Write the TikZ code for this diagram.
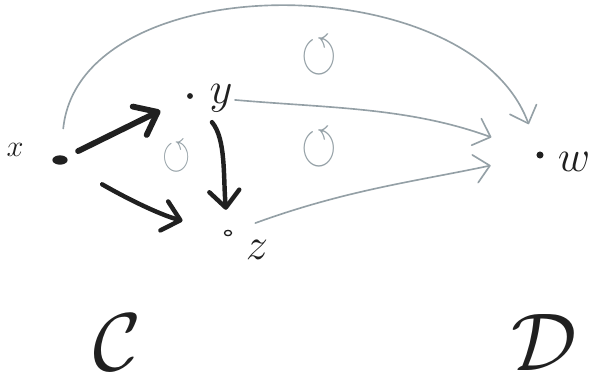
\RequirePackage{fix-cm}
\documentclass[tikz,border=0pt]{standalone}
\usepackage{amssymb}
\usepackage{graphicx}
\usepackage{tikz}
\usetikzlibrary{arrows.meta,shapes.geometric}
\definecolor{myink}{RGB}{32,32,32}
\definecolor{mygray}{RGB}{148,160,166}
\tikzset{
  pt/.style={circle,fill=myink,inner sep=0pt,minimum size=5pt},
  ptlbl/.style={inner sep=0pt,text=myink,font=\fontsize{38}{38}\selectfont},
  catlbl/.style={inner sep=0pt,text=myink,font=\fontsize{70}{70}\selectfont},
  comm/.style={inner sep=0pt,text=mygray,font=\fontsize{10}{10}\selectfont},
  inkarrow/.style={draw=myink,line width=3.8pt,line cap=round,
    -{Straight Barb[length=5mm,width=9mm,round]}},
  grayarrow/.style={draw=mygray,line width=1.4pt,line cap=round,
    -{Straight Barb[length=4.5mm,width=8.5mm,round]}}
}

\begin{document}
\begin{tikzpicture}[x=0.3mm,y=0.3mm]
  \useasboundingbox (0,0) rectangle (592,377);
  % objects
  \node[ellipse,fill=myink,inner sep=0pt,minimum width=13pt,minimum height=8pt] (x) at (60,217) {};
  \node[pt] (y) at (190,281) {};
  \node[ellipse,draw=myink,line width=1.1pt,inner sep=0pt,minimum width=6pt,minimum height=4.5pt] (z) at (228,144) {};
  \node[pt,minimum size=6pt] (w) at (540,222) {};
  \node[ptlbl,font=\fontsize{26}{26}\selectfont] (xl) at (15,227) {$x$};
  \node[ptlbl] (yl) at (221,279) {$y$};
  \node[ptlbl] (zl) at (257,127) {$z$};
  \node[ptlbl] (wl) at (574,215) {$w$};
  \node[catlbl] (C) at (117,35) {$\mathcal{C}$};
  \node[catlbl] (D) at (544,35) {$\mathcal{D}$};
  % commutativity marks
  \node[comm] (c1) at (177,220) {\scalebox{3.1}[3.9]{$\circlearrowleft$}};
  \node[comm] (c2) at (319,229) {\scalebox{3.9}[4.8]{$\circlearrowleft$}};
  \node[comm] (c3) at (319,321) {\scalebox{3.9}[4.8]{$\circlearrowleft$}};
  % arrows in C
  \draw[inkarrow,line width=5pt,-{Straight Barb[length=6mm,width=9.5mm,round]},
    shorten <=4mm,shorten >=9mm] (x) -- (y);
  \draw[inkarrow,shorten <=12.6mm,shorten >=12.9mm] (x) to[out=-30,in=165] (z);
  \draw[inkarrow,shorten <=9.3mm,shorten >=6mm] (y) to[out=-50,in=95] (z);
  % arrows into D
  \draw[grayarrow,shorten <=8mm,shorten >=8.7mm] (x) .. controls (80,412) and (470,412) .. (w);
  \draw[grayarrow,shorten <=12.6mm,shorten >=14.4mm] (y) to[out=-5,in=160] (w);
  \draw[grayarrow,shorten <=7.5mm,shorten >=14mm] (z) to[out=20,in=192] (w);
\end{tikzpicture}
\end{document}
